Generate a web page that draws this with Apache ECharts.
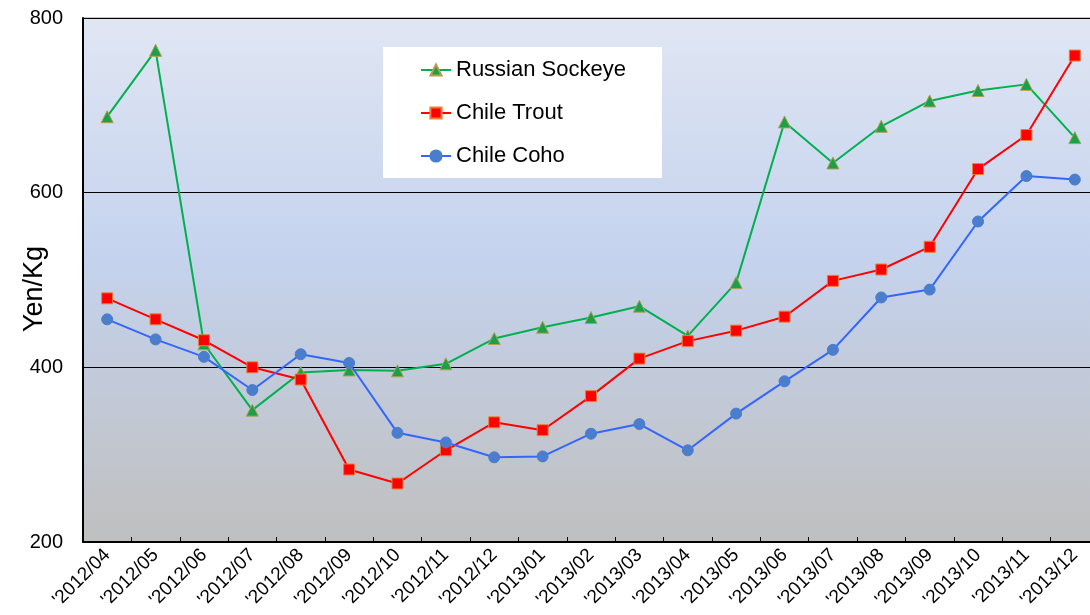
<!DOCTYPE html>
<html>
<head>
<meta charset="utf-8">
<script src="https://cdn.jsdelivr.net/npm/echarts@6/dist/echarts.min.js"></script>
<style>
html,body{margin:0;padding:0;background:#fff;}
#chart{width:1090px;height:615px;}
</style>
</head>
<body>
<div id="chart"></div>
<script>
var categories = ["'2012/04","'2012/05","'2012/06","'2012/07","'2012/08","'2012/09","'2012/10","'2012/11","'2012/12","'2013/01","'2013/02","'2013/03","'2013/04","'2013/05","'2013/06","'2013/07","'2013/08","'2013/09","'2013/10","'2013/11","'2013/12"];
var russianSockeye = [687,763,427,351,394,397,396,404,433,446,457,470,436,497,681,634,676,705,717,724,663];
var chileTrout = [479,455,431,400,386,283,267,305,337,328,367,410,430,442,458,499,512,538,627,666,757];
var chileCoho = [455,432,412,374,415,405,325,314,297,298,324,335,305,347,384,420,480,489,567,619,615];
var yTicks = [200,400,600,800];

var chart = echarts.init(document.getElementById('chart'));
var font = 'Liberation Sans, Arial, sans-serif';
chart.setOption({
  animation: false,
  backgroundColor: '#ffffff',
  textStyle: {fontFamily: font},
  grid: {
    left: 83, top: 18, bottom: 73, right: -9,
    outerBoundsMode: 'none',
    containLabel: false,
    show: true,
    borderColor: '#8c8c8c', borderWidth: 1,
    backgroundColor: new echarts.graphic.LinearGradient(0,0,0,1,[
      {offset:0,color:'#e0e6f3'},
      {offset:0.45,color:'#c5d3ee'},
      {offset:1,color:'#bfbfbf'}
    ])
  },
  legend: {
    orient: 'vertical',
    left: 383, top: 47,
    backgroundColor: '#ffffff',
    padding: [11, 36, 10, 37],
    itemGap: 19,
    itemWidth: 30, itemHeight: 14,
    textStyle: {fontSize: 22, color: '#000', fontFamily: font, lineHeight: 24},
    data: ['Russian Sockeye','Chile Trout','Chile Coho']
  },
  xAxis: {
    type: 'category',
    data: categories,
    boundaryGap: true,
    axisLine: {lineStyle: {color: '#000', width: 2}},
    axisTick: {show: true, inside: true, length: 5, lineStyle: {color: '#000'}},
    axisLabel: {rotate: 45, fontSize: 19, color: '#000', fontFamily: font, margin: 10, interval: 0},
    splitLine: {show: false}
  },
  yAxis: {
    type: 'value',
    min: 200, max: 800, interval: 200,
    name: 'Yen/Kg',
    nameLocation: 'middle',
    nameGap: 35,
    nameMoveOverlap: false,
    nameTextStyle: {fontSize: 27, color: '#000', fontFamily: font, padding: [0, 18, 0, 0]},
    axisLine: {show: true, lineStyle: {color: '#000', width: 2}},
    axisTick: {show: false},
    axisLabel: {fontSize: 20, color: '#000', fontFamily: font, margin: 20,
      formatter: function(v){ return yTicks.indexOf(v) >= 0 ? String(v) : ''; }},
    splitLine: {show: true, lineStyle: {color: '#000', width: 1}}
  },
  series: [
    {
      name: 'Russian Sockeye', type: 'line', data: russianSockeye,
      symbol: 'triangle', symbolSize: 12,
      lineStyle: {color: '#00b050', width: 2},
      itemStyle: {color: '#1aa04a', borderColor: '#b0a050', borderWidth: 1}
    },
    {
      name: 'Chile Trout', type: 'line', data: chileTrout,
      symbol: 'rect', symbolSize: 11,
      lineStyle: {color: '#ff0000', width: 2},
      itemStyle: {color: '#ff0000', borderColor: '#e8803a', borderWidth: 1}
    },
    {
      name: 'Chile Coho', type: 'line', data: chileCoho,
      symbol: 'circle', symbolSize: 11,
      lineStyle: {color: '#3366ff', width: 2},
      itemStyle: {color: '#4a7dcc', borderColor: '#4a7dcc', borderWidth: 1}
    }
  ]
});
</script>
</body>
</html>
